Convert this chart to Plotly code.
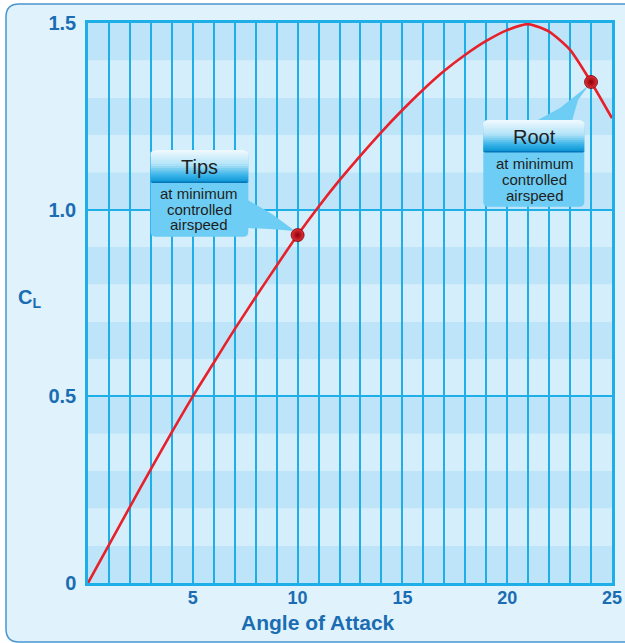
import plotly.graph_objects as go

# ---------------- data ----------------
alpha = [0, 1, 2, 3, 4, 5, 6, 7, 8, 9, 10, 11, 12, 13, 14, 15, 16, 17, 18, 19, 20, 21, 22, 23, 24, 25]
cl = [0, 0.102, 0.204, 0.305, 0.404, 0.500, 0.590, 0.680, 0.766, 0.850, 0.932, 1.008, 1.079, 1.145, 1.208,
      1.267, 1.322, 1.372, 1.415, 1.452, 1.481, 1.497, 1.477, 1.428, 1.342, 1.245]
point_alpha = [10, 24]
point_cl = [0.932, 1.342]
point_names = ["Tips", "Root"]
x_tick_vals = [5, 10, 15, 20, 25]
y_tick_vals = [0, 0.5, 1.0, 1.5]
y_tick_text = ["0", "0.5", "1.0", "1.5"]
sub_text = ["at minimum", "controlled", "airspeed"]

# ---------------- geometry helpers ----------------
W, H = 625, 643
L, R, T, B = 88, 612, 23, 583
XMAX, YMAX = 25, 1.5


def dx(px):
    return (px - L) / (R - L) * XMAX


def dy(py):
    return (B - py) / (B - T) * YMAX


def ppx(px):
    return (px - L) / (R - L)


def ppy(py):
    return (B - py) / (B - T)


def rounded_path(x0, y0, x1, y1, r, fx, fy, corners=(1, 1, 1, 1)):
    tl, tr, br, bl = [r * c for c in corners]
    p = [f"M {fx(x0 + tl)},{fy(y0)}", f"L {fx(x1 - tr)},{fy(y0)}"]
    if tr:
        p.append(f"Q {fx(x1)},{fy(y0)} {fx(x1)},{fy(y0 + tr)}")
    p.append(f"L {fx(x1)},{fy(y1 - br)}")
    if br:
        p.append(f"Q {fx(x1)},{fy(y1)} {fx(x1 - br)},{fy(y1)}")
    p.append(f"L {fx(x0 + bl)},{fy(y1)}")
    if bl:
        p.append(f"Q {fx(x0)},{fy(y1)} {fx(x0)},{fy(y1 - bl)}")
    p.append(f"L {fx(x0)},{fy(y0 + tl)}")
    if tl:
        p.append(f"Q {fx(x0)},{fy(y0)} {fx(x0 + tl)},{fy(y0)}")
    p.append("Z")
    return " ".join(p)


def lerp_color(c1, c2, t):
    a = [int(c1[i:i + 2], 16) for i in (1, 3, 5)]
    b = [int(c2[i:i + 2], 16) for i in (1, 3, 5)]
    return "#" + "".join(f"{round(a[k] + (b[k] - a[k]) * t):02x}" for k in range(3))


BG = "#e0f2fc"
BAND_DARK = "#bde4f8"
BAND_LIGHT = "#d5eefb"
GRID = "#1eaee8"
LABEL = "#1a6db3"
BODY = "#6ecdf4"
FONT = "Liberation Sans"

shapes = []
anns = []
# outer rounded panel
shapes.append(dict(type="path", xref="paper", yref="paper", layer="below",
                   path=rounded_path(6, 4, 660, 642, 13, ppx, ppy),
                   fillcolor=BG, line=dict(color="#4b95cf", width=1.5)))
# horizontal bands
for i in range(15):
    shapes.append(dict(type="rect", xref="x", yref="y", layer="below",
                       x0=0, x1=XMAX, y0=i * 0.1, y1=(i + 1) * 0.1,
                       fillcolor=BAND_DARK if i % 2 == 0 else BAND_LIGHT, line=dict(width=0)))


def callout(hx0, hy0, hx1, hy_mid, hy1, tail, title, title_y, cx, line_ys):
    tp = "M " + " L ".join(f"{dx(a)},{dy(b)}" for a, b in tail) + " Z"
    shapes.append(dict(type="path", xref="x", yref="y", layer="between", path=tp,
                       fillcolor=BODY, line=dict(width=0)))
    shapes.append(dict(type="path", xref="x", yref="y", layer="between",
                       path=rounded_path(hx0, hy0, hx1, hy1, 5, dx, dy),
                       fillcolor=BODY, line=dict(width=0)))
    n = 16
    stops = [(0.0, "#f0f9fe"), (0.45, "#b4e4f8"), (0.75, "#3fb6ea"), (1.0, "#0592d2")]
    h = (hy_mid - hy0) / n
    for k in range(n):
        t = (k + 0.5) / n
        col = stops[-1][1]
        for j in range(len(stops) - 1):
            if stops[j][0] <= t <= stops[j + 1][0]:
                tt = (t - stops[j][0]) / (stops[j + 1][0] - stops[j][0])
                col = lerp_color(stops[j][1], stops[j + 1][1], tt)
                break
        y0 = hy0 + k * h
        y1 = y0 + h + 0.3
        if k == 0:
            shapes.append(dict(type="path", xref="x", yref="y", layer="between",
                               path=rounded_path(hx0, y0, hx1, y0 + 6, 5, dx, dy, (1, 1, 0, 0)),
                               fillcolor=col, line=dict(width=0)))
            continue
        shapes.append(dict(type="rect", xref="x", yref="y", layer="between",
                           x0=dx(hx0), x1=dx(hx1), y0=dy(y0), y1=dy(y1),
                           fillcolor=col, line=dict(width=0)))
    shapes.append(dict(type="line", xref="x", yref="y", layer="between",
                       x0=dx(hx0 + 1), x1=dx(hx1 - 1), y0=dy(hy_mid), y1=dy(hy_mid),
                       line=dict(color="#0577b8", width=1.5)))
    anns.append(dict(x=dx(cx), y=dy(title_y), xref="x", yref="y", text=title, showarrow=False,
                     xanchor="center", yanchor="middle",
                     font=dict(family=FONT, size=20, color="#1e1e1e")))
    for txt, ly in zip(sub_text, line_ys):
        anns.append(dict(x=dx(cx), y=dy(ly), xref="x", yref="y", text=txt, showarrow=False,
                         xanchor="center", yanchor="middle",
                         font=dict(family=FONT, size=15, color="#1e1e1e")))


callout(150.7, 150, 248.3, 182.3, 236.7,
        [(246, 199), (272, 214), (295, 231), (270, 229), (246, 228)],
        point_names[0], 166.5, 199, [193.5, 209, 224.5])
callout(483.3, 120, 584.3, 151.7, 206.7,
        [(536, 121), (560, 108), (589, 85), (578, 100), (572, 121)],
        point_names[1], 136.5, 534.5, [163, 179, 195])

# axis labels as annotations
anns.append(dict(x=ppx(317.5), y=ppy(622), xref="paper", yref="paper", text="<b>Angle of Attack</b>",
                 showarrow=False, xanchor="center", yanchor="middle",
                 font=dict(family=FONT, size=21, color=LABEL)))
anns.append(dict(x=ppx(29), y=ppy(298), xref="paper", yref="paper",
                 text="<b>C<sub>L</sub></b>", showarrow=False, xanchor="center", yanchor="middle",
                 font=dict(family=FONT, size=20, color=LABEL)))

fig = go.Figure()
fig.add_trace(go.Scatter(x=alpha, y=cl, mode="lines",
                         line=dict(color="#e8202a", width=2.6, shape="spline", smoothing=0.6),
                         hoverinfo="skip", showlegend=False))
fig.add_trace(go.Scatter(x=point_alpha, y=point_cl, mode="markers",
                         marker=dict(size=13, color="#e63038",
                                     gradient=dict(type="radial", color="#8a0008"),
                                     line=dict(color="#7a0006", width=0.8)),
                         showlegend=False))

fig.update_layout(
    width=W, height=H, autosize=False,
    margin=dict(l=L, r=W - R, t=T, b=H - B, pad=0, autoexpand=False),
    paper_bgcolor="#ffffff",
    plot_bgcolor=BAND_LIGHT,
    shapes=shapes,
    annotations=anns,
    xaxis=dict(range=[0, XMAX], tickvals=x_tick_vals, showgrid=True, gridcolor=GRID, gridwidth=1.5,
               zeroline=False, showline=True, mirror=True, linecolor=GRID, linewidth=2.5,
               ticks="", ticklabelstandoff=-3, automargin=False,
               tickfont=dict(family=FONT, size=18, color=LABEL, weight="bold"),
               minor=dict(dtick=1, tick0=0, showgrid=True, gridcolor=GRID, gridwidth=1.5)),
    yaxis=dict(range=[0, YMAX], tickvals=y_tick_vals, ticktext=y_tick_text, showgrid=True,
               gridcolor=GRID, gridwidth=1.5, zeroline=False, showline=True, mirror=True,
               linecolor=GRID, linewidth=2.5, ticks="", ticklabelstandoff=5, automargin=False,
               tickfont=dict(family=FONT, size=20, color=LABEL, weight="bold")),
)

fig.write_html("out.html", config={"displayModeBar": False, "responsive": False},
               post_script="document.body.style.margin='0px';document.body.style.overflow='hidden';")
